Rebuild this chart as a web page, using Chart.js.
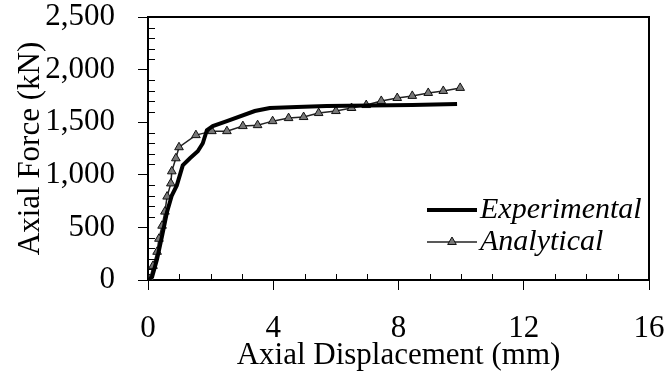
<!DOCTYPE html>
<html lang="en">
<head>
<meta charset="UTF-8">
<title>Axial Force vs Axial Displacement</title>
<script src="https://cdn.jsdelivr.net/npm/chart.js"></script>
<style>
    body {
        margin: 0;
        padding: 0;
        background: #ffffff;
    }
    .chart-box {
        position: relative;
        width: 668px;
        height: 383px;
    }
</style>
</head>
<body>
<div class="chart-box">
    <canvas id="forceChart"></canvas>
</div>
<script>
// values
const expDisp  = [0, 0.13, 0.29, 0.45, 0.61, 0.76, 0.92, 1.11, 1.34, 1.59, 1.75, 1.88, 2.07, 2.52, 3.41, 3.89, 4.75, 5.70, 8.44, 9.87];
const expForce = [0, 29, 200, 420, 650, 803, 899, 1090, 1157, 1224, 1300, 1424, 1463, 1510, 1606, 1635, 1644, 1654, 1663, 1673];

const anaDisp  = [0, 0.06, 0.16, 0.29, 0.35, 0.45, 0.54, 0.61, 0.73, 0.76, 0.89, 0.99, 1.53, 2.04, 2.52, 3.03, 3.50, 3.98, 4.49, 4.97, 5.45, 6.0, 6.5, 6.97, 7.45, 7.96, 8.44, 8.95, 9.43, 9.97];
const anaForce = [0, 10, 134, 268, 392, 516, 650, 793, 918, 1033, 1157, 1262, 1377, 1415, 1415, 1463, 1472, 1510, 1539, 1549, 1587, 1606, 1635, 1663, 1702, 1730, 1750, 1778, 1797, 1826];

const xTicks = [0, 4, 8, 12, 16];
const yTicks = [0, 500, 1000, 1500, 2000, 2500];
const xMinorStep = 1;
const yMinorStep = 100;

const seriesNames = ["Experimental", "Analytical"];

const serif = "'Liberation Serif', 'Times New Roman', serif";

// frame on top/right + small inner ticks
const frameAndMinor = {
    id: "frameAndMinor",
    afterDraw(chart) {
        const ctx = chart.ctx;
        const a = chart.chartArea;
        const xs = chart.scales.x, ys = chart.scales.y;
        ctx.save();
        ctx.strokeStyle = "#000";
        ctx.lineWidth = 2;
        ctx.beginPath();
        ctx.moveTo(a.left, a.top);
        ctx.lineTo(a.right, a.top);
        ctx.lineTo(a.right, a.bottom);
        ctx.stroke();

        ctx.lineWidth = 1;
        ctx.beginPath();
        for (let v = xs.min + xMinorStep; v < xs.max; v += xMinorStep) {
            if (xTicks.includes(v)) continue;
            const px = Math.round(xs.getPixelForValue(v)) + 0.5;
            ctx.moveTo(px, a.bottom);
            ctx.lineTo(px, a.bottom - 6);
        }
        for (let v = ys.min + yMinorStep; v < ys.max; v += yMinorStep) {
            if (yTicks.includes(v)) continue;
            const py = Math.round(ys.getPixelForValue(v)) + 0.5;
            ctx.moveTo(a.left, py);
            ctx.lineTo(a.left + 7, py);
        }
        ctx.stroke();
        ctx.restore();
    }
};

// legend drawn inside the plot, lower right
const innerLegend = {
    id: "innerLegend",
    afterDraw(chart) {
        const ctx = chart.ctx;
        const a = chart.chartArea;
        const x0 = a.right - 222, x1 = a.right - 172;
        const rows = [a.bottom - 70, a.bottom - 38];
        ctx.save();
        ctx.font = "italic 30px " + serif;
        ctx.textBaseline = "middle";
        chart.data.datasets.forEach((ds, i) => {
            const y = rows[i];
            ctx.strokeStyle = ds.borderColor;
            ctx.lineWidth = ds.borderWidth;
            ctx.beginPath();
            ctx.moveTo(x0, y);
            ctx.lineTo(x1, y);
            ctx.stroke();
            if (ds.pointRadius > 0) {
                ctx.fillStyle = ds.pointBackgroundColor;
                ctx.strokeStyle = ds.pointBorderColor;
                ctx.lineWidth = ds.pointBorderWidth;
                Chart.helpers.drawPoint(ctx, {
                    pointStyle: ds.pointStyle,
                    radius: ds.pointRadius,
                    borderWidth: ds.pointBorderWidth,
                    rotation: 0
                }, (x0 + x1) / 2, y);
            }
            ctx.fillStyle = "#000";
            ctx.fillText(ds.label, x1 + 3, y);
        });
        ctx.restore();
    }
};

const ctx = document.getElementById("forceChart").getContext("2d");

new Chart(ctx, {
    type: "line",
    data: {
        datasets: [
            {
                label: seriesNames[0],
                data: expDisp.map((x, i) => ({ x: x, y: expForce[i] })),
                borderColor: "#000",
                borderWidth: 4,
                pointRadius: 0,
                tension: 0
            },
            {
                label: seriesNames[1],
                data: anaDisp.map((x, i) => ({ x: x, y: anaForce[i] })),
                borderColor: "#222",
                borderWidth: 1.5,
                pointStyle: "triangle",
                pointRadius: 5,
                pointBorderWidth: 1,
                pointBackgroundColor: "#777",
                pointBorderColor: "#111",
                backgroundColor: "#777",
                tension: 0
            }
        ]
    },
    options: {
        responsive: true,
        maintainAspectRatio: false,
        animation: false,
        layout: { padding: { top: 17, right: 19, bottom: 0, left: 0 } },
        plugins: {
            legend: { display: false },
            tooltip: { enabled: false }
        },
        scales: {
            x: {
                type: "linear",
                min: 0,
                max: 16,
                afterBuildTicks: s => { s.ticks = xTicks.map(v => ({ value: v })); },
                afterFit: s => { s.height = 103; s.paddingLeft = 0; s.paddingRight = 0; },
                grid: {
                    display: true,
                    drawOnChartArea: false,
                    drawTicks: true,
                    tickLength: 10,
                    tickColor: "#000",
                    tickWidth: 1
                },
                border: { display: true, color: "#000", width: 2 },
                ticks: {
                    color: "#000",
                    padding: 20,
                    maxRotation: 0,
                    font: { family: serif, size: 31 }
                },
                title: {
                    display: true,
                    text: "Axial Displacement (mm)",
                    color: "#000",
                    font: { family: serif, size: 31 },
                    padding: { top: 0, bottom: 9 }
                }
            },
            y: {
                type: "linear",
                min: 0,
                max: 2500,
                afterBuildTicks: s => { s.ticks = yTicks.map(v => ({ value: v })); },
                afterFit: s => { s.width = 148; s.paddingTop = 0; s.paddingBottom = 0; },
                grid: {
                    display: true,
                    drawOnChartArea: false,
                    drawTicks: true,
                    tickLength: 10,
                    tickColor: "#000",
                    tickWidth: 1
                },
                border: { display: true, color: "#000", width: 2 },
                ticks: {
                    color: "#000",
                    padding: 23,
                    font: { family: serif, size: 31 },
                    callback: v => v.toLocaleString("en-US")
                },
                title: {
                    display: true,
                    text: "Axial Force (kN)",
                    color: "#000",
                    font: { family: serif, size: 31 },
                    padding: { top: 12, bottom: 0 }
                }
            }
        }
    },
    plugins: [frameAndMinor, innerLegend]
});
</script>
</body>
</html>
